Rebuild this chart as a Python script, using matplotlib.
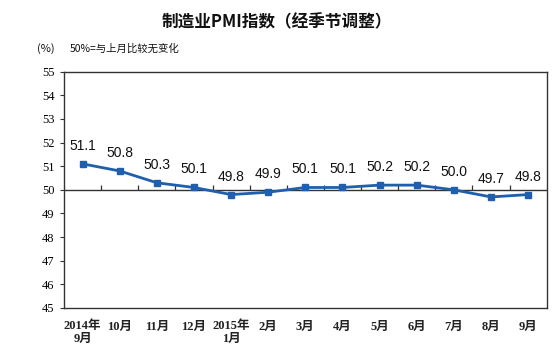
import numpy as np
import matplotlib.pyplot as plt

months = ["2014年\n9月", "10月", "11月", "12月", "2015年\n1月", "2月", "3月",
          "4月", "5月", "6月", "7月", "8月", "9月"]
pmi = [51.1, 50.8, 50.3, 50.1, 49.8, 49.9, 50.1, 50.1, 50.2, 50.2, 50.0, 49.7, 49.8]
y_ticks = [45, 46, 47, 48, 49, 50, 51, 52, 53, 54, 55]

cjk = ['Noto Sans CJK SC', 'DejaVu Sans']
serif_cjk = ['Liberation Serif', 'Noto Sans CJK SC']

fig = plt.figure(figsize=(5.53, 3.64), dpi=100)
ax = fig.add_axes([64 / 553, 56 / 364, 482.7 / 553, 236.3 / 364])

x = np.arange(len(pmi))
blue = '#1f5fae'
ax.plot(x, pmi, color=blue, lw=2.0, marker='s', ms=5, zorder=3)

for xi, v in zip(x, pmi):
    ax.annotate(f"{v:.1f}", (xi, v), xytext=(0, 13), textcoords='offset points',
                ha='center', va='center', fontsize=10, family='Liberation Sans',
                color='#111111')

# reference line at 50 with upward ticks between months
ax.axhline(50, color='#333333', lw=1.0, zorder=2)
ax.vlines(x[:-1] + 0.5, 50, 50.2, color='#333333', lw=0.9)

ax.set_xlim(-0.5, len(pmi) - 0.5)
ax.set_ylim(45, 55)
ax.set_yticks(y_ticks)
ax.set_yticklabels([str(t) for t in y_ticks], family='Liberation Serif', fontsize=9)
ax.tick_params(axis='y', direction='out', length=3, width=0.8, color='#333333', pad=4)

ax.set_xticks(x)
ax.set_xticklabels(months, family=serif_cjk, fontsize=9, linespacing=1.1,
                   fontweight='bold', color='#222222')
ax.tick_params(axis='x', length=0, pad=9)

for s in ax.spines.values():
    s.set_color('#333333')
    s.set_linewidth(1.0)

fig.text(0.5, 1 - 22 / 364, "制造业PMI指数（经季节调整）", ha='center', va='center',
         fontsize=12, family=cjk, fontweight='bold', color='#111111')
fig.text(37 / 553, 1 - 49 / 364, "(%)", ha='left', va='center', fontsize=8,
         family=cjk, color='#111111')
fig.text(70 / 553, 1 - 49 / 364, "50%=与上月比较无变化", ha='left', va='center',
         fontsize=7.5, family=cjk, color='#111111')

fig.savefig("out.png", dpi=100)
